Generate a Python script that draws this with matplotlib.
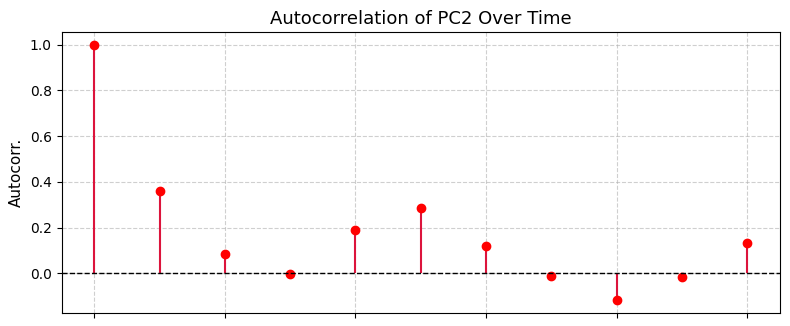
import matplotlib
matplotlib.use('Agg')
import matplotlib.pyplot as plt
import numpy as np

# data
lags = np.arange(11)
autocorr = [1.0, 0.36, 0.083, -0.004, 0.189, 0.285, 0.118, -0.013, -0.118, -0.018, 0.132]

fig, ax = plt.subplots(figsize=(7.9, 3.26), dpi=100)
fig.subplots_adjust(left=0.078, right=0.987, top=0.902, bottom=0.04)

markerline, stemlines, baseline = ax.stem(lags, autocorr, linefmt='-', markerfmt='o', basefmt=' ')
plt.setp(stemlines, color='crimson', linewidth=1.5)
plt.setp(markerline, color='red', markersize=6)
ax.axhline(0, color='black', linestyle='--', linewidth=1)

ax.set_title('Autocorrelation of PC2 Over Time', fontsize=13)
ax.set_ylabel('Autocorr.', fontsize=11)
ax.set_xticks(np.arange(0, 11, 2))
ax.set_xticklabels([])
ax.grid(True, linestyle='--', alpha=0.6)

plt.savefig('out.png')
